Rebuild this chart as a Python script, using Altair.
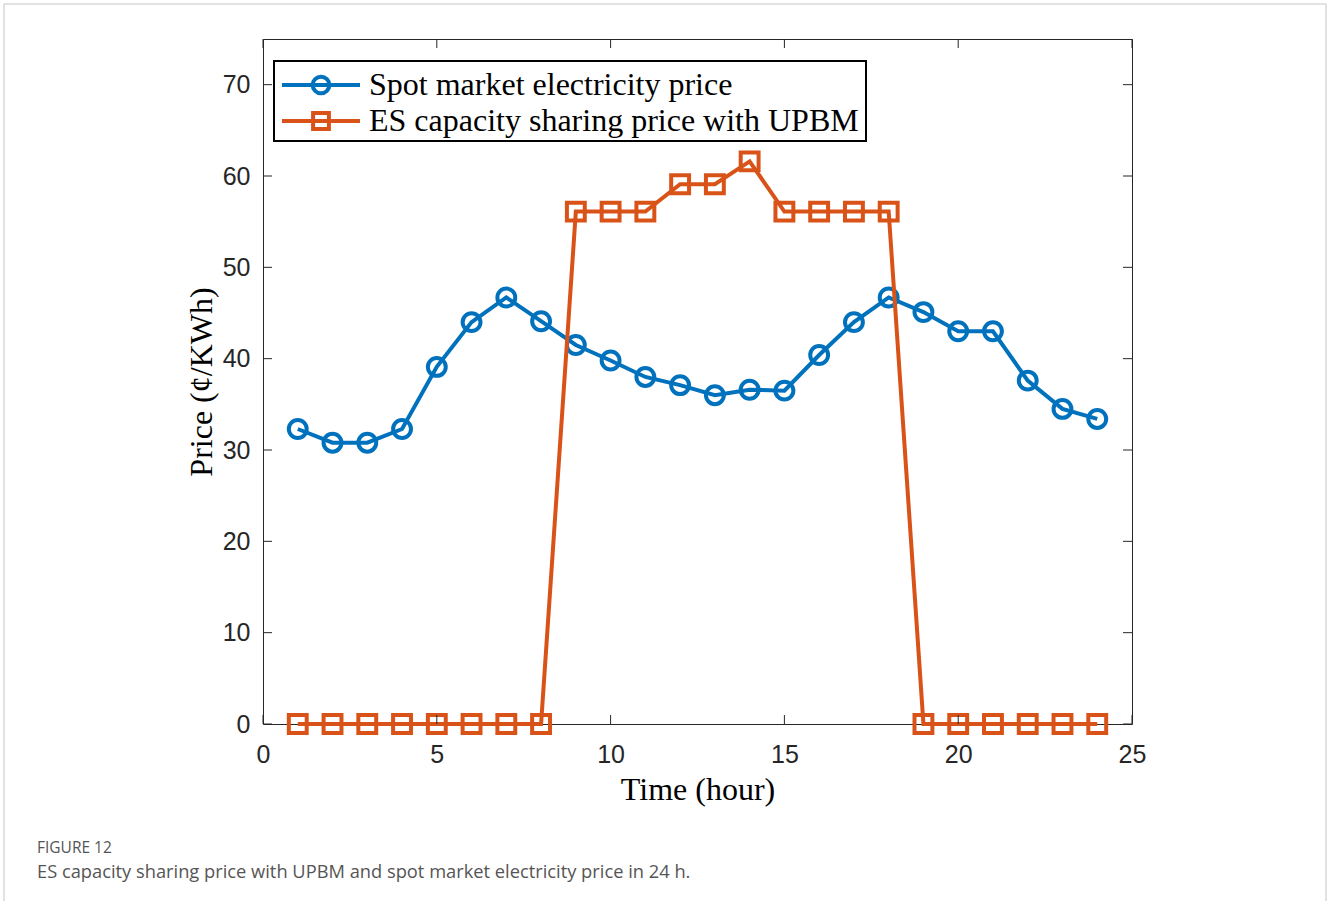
import altair as alt
import pandas as pd

# ---- data ----
hours = list(range(1, 25))
spot_price = [32.3, 30.8, 30.8, 32.3, 39.1, 44.0, 46.7, 44.1, 41.5, 39.8, 38.0, 37.1,
              36.0, 36.6, 36.5, 40.4, 44.0, 46.7, 45.1, 43.0, 43.0, 37.6, 34.5, 33.4]
sharing_price = [0, 0, 0, 0, 0, 0, 0, 0, 56.1, 56.1, 56.1, 59.1,
                 59.1, 61.6, 56.1, 56.1, 56.1, 56.1, 0, 0, 0, 0, 0, 0]
x_ticks = [0, 5, 10, 15, 20, 25]
y_ticks = [0, 10, 20, 30, 40, 50, 60, 70]
series_names = ["Spot market electricity price", "ES capacity sharing price with UPBM"]

BLUE = "#0072BD"
ORANGE = "#D95319"
AX = "#262626"
W, H = 869, 685

df_spot = pd.DataFrame({"hour": hours, "price": spot_price})
df_share = pd.DataFrame({"hour": hours, "price": sharing_price})
df_xt = pd.DataFrame({"v": x_ticks})
df_yt = pd.DataFrame({"v": y_ticks})
one = pd.DataFrame({"d": [0]})

xs = alt.Scale(domain=[0, 25], nice=False, zero=False)
ys = alt.Scale(domain=[0, 75], nice=False, zero=False)

x_axis = alt.Axis(values=x_ticks, ticks=False, tickSize=0, domain=False, grid=False,
                  labelFont="Liberation Sans", labelFontSize=25, labelColor=AX,
                  labelPadding=18, labelFlush=False, labelOverlap=False,
                  title="Time (hour)", titleFont="Liberation Serif", titleFontSize=32,
                  titleFontWeight="normal", titleColor="#000000", titlePadding=7)
y_axis = alt.Axis(values=y_ticks, ticks=False, tickSize=0, domain=False, grid=False,
                  labelFont="Liberation Sans", labelFontSize=25, labelColor=AX,
                  labelPadding=13, labelFlush=False, labelOverlap=False,
                  title="Price (¢/KWh)", titleFont="Liberation Serif", titleFontSize=32,
                  titleFontWeight="normal", titleColor="#000000", titlePadding=4)

# outer page frame
frame = alt.Chart(one).mark_rect(fill=None, stroke="#c4c4c4", strokeWidth=1).encode(
    x=alt.value(-259), x2=alt.value(1063), y=alt.value(-35), y2=alt.value(890))

base_line = alt.Chart(df_spot).mark_line(color=BLUE, strokeWidth=4).encode(
    x=alt.X("hour:Q", scale=xs, axis=x_axis),
    y=alt.Y("price:Q", scale=ys, axis=y_axis))
spot_pts = alt.Chart(df_spot).mark_point(shape="circle", filled=False, color=BLUE,
                                         size=320, strokeWidth=4, opacity=1).encode(
    x=alt.X("hour:Q", scale=xs), y=alt.Y("price:Q", scale=ys))
share_line = alt.Chart(df_share).mark_line(color=ORANGE, strokeWidth=4).encode(
    x=alt.X("hour:Q", scale=xs), y=alt.Y("price:Q", scale=ys))
share_pts = alt.Chart(df_share).mark_point(shape="square", filled=False, color=ORANGE,
                                           size=320, strokeWidth=4, opacity=1).encode(
    x=alt.X("hour:Q", scale=xs), y=alt.Y("price:Q", scale=ys))

# inward ticks on all four sides (MATLAB box style)
tick_style = dict(color=AX, strokeWidth=1)
t_bottom = alt.Chart(df_xt).mark_rule(**tick_style).encode(
    x=alt.X("v:Q", scale=xs), y=alt.value(H), y2=alt.value(H - 9))
t_top = alt.Chart(df_xt).mark_rule(**tick_style).encode(
    x=alt.X("v:Q", scale=xs), y=alt.value(0), y2=alt.value(9))
t_left = alt.Chart(df_yt).mark_rule(**tick_style).encode(
    y=alt.Y("v:Q", scale=ys), x=alt.value(0), x2=alt.value(9))
t_right = alt.Chart(df_yt).mark_rule(**tick_style).encode(
    y=alt.Y("v:Q", scale=ys), x=alt.value(W), x2=alt.value(W - 9))

# legend box
leg_box = alt.Chart(one).mark_rect(fill="white", stroke="#000000", strokeWidth=2).encode(
    x=alt.value(11), x2=alt.value(603), y=alt.value(22), y2=alt.value(102))
leg_l1 = alt.Chart(one).mark_rule(color=BLUE, strokeWidth=4).encode(
    x=alt.value(19), x2=alt.value(97), y=alt.value(46))
leg_p1 = alt.Chart(one).mark_point(shape="circle", filled=False, color=BLUE, size=280,
                                   strokeWidth=4, opacity=1).encode(
    x=alt.value(58), y=alt.value(46))
leg_l2 = alt.Chart(one).mark_rule(color=ORANGE, strokeWidth=4).encode(
    x=alt.value(19), x2=alt.value(97), y=alt.value(82))
leg_p2 = alt.Chart(one).mark_point(shape="square", filled=False, color=ORANGE, size=250,
                                   strokeWidth=4, opacity=1).encode(
    x=alt.value(58), y=alt.value(82))
leg_t1 = alt.Chart(one).mark_text(text=series_names[0], font="Liberation Serif", fontSize=32,
                                  align="left", baseline="middle", color="#000000").encode(
    x=alt.value(106), y=alt.value(46))
leg_t2 = alt.Chart(one).mark_text(text=series_names[1], font="Liberation Serif", fontSize=32,
                                  align="left", baseline="middle", color="#000000").encode(
    x=alt.value(106), y=alt.value(82))

# caption
cap1 = alt.Chart(one).mark_text(text="FIGURE 12", font="Open Sans", fontSize=15.5,
                                align="left", baseline="alphabetic", color="#555555").encode(
    x=alt.value(-226), y=alt.value(814))
cap2 = alt.Chart(one).mark_text(
    text="ES capacity sharing price with UPBM and spot market electricity price in 24 h.",
    font="Open Sans", fontSize=18.3, align="left", baseline="alphabetic",
    color="#555555").encode(x=alt.value(-226), y=alt.value(839))

chart = alt.layer(
    frame, base_line, spot_pts, share_line, share_pts,
    t_bottom, t_top, t_left, t_right,
    leg_box, leg_l1, leg_p1, leg_l2, leg_p2, leg_t1, leg_t2,
    cap1, cap2,
).properties(
    width=W, height=H,
    autosize=alt.AutoSizeParams(type="none"),
    padding={"left": 263, "top": 39, "right": 196, "bottom": 177},
    background="white",
).configure_view(stroke=AX, strokeWidth=1)

chart.save("out.html", embed_options={"renderer": "svg", "actions": False})
